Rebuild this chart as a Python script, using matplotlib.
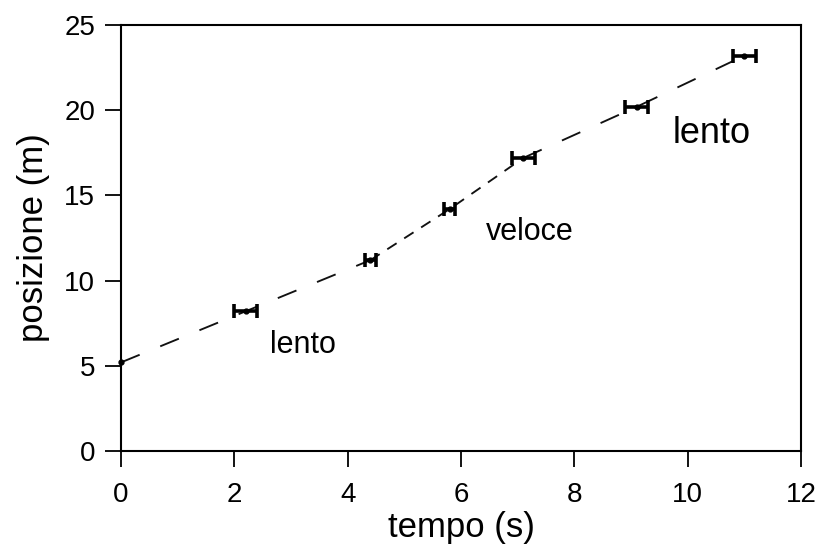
import matplotlib
matplotlib.use("Agg")
import matplotlib.pyplot as plt
import numpy as np

plt.rcParams['font.family'] = ['Liberation Sans', 'DejaVu Sans']
plt.rcParams['lines.scale_dashes'] = False

tempo = [0.0, 2.2, 4.4, 5.8, 7.1, 9.1, 11.0]
posizione = [5.2, 8.2, 11.2, 14.2, 17.2, 20.2, 23.2]
err_tempo = [0.0, 0.2, 0.1, 0.1, 0.2, 0.2, 0.2]

# segments of the fitted path: (start index, end index, style)
segments = [(0, 2, 'lento'), (2, 4, 'veloce'), (4, 6, 'lento')]

xticks = [0, 2, 4, 6, 8, 10, 12]
yticks = [0, 5, 10, 15, 20, 25]

fig = plt.figure(figsize=(8.2, 5.5), dpi=100)
ax = fig.add_axes([0.1476, 0.18, 0.8292, 0.7745])

t = np.array(tempo)
p = np.array(posizione)
for i0, i1, kind in segments:
    dashes = (14.5, 16) if kind == 'lento' else (8, 6.5)
    ax.plot(t[i0:i1 + 1], p[i0:i1 + 1], color='#111111', lw=1.35,
            dashes=dashes, zorder=2)

ax.errorbar(tempo[1:], posizione[1:], xerr=err_tempo[1:], fmt='o', ms=3.5,
            color='black', ecolor='black', elinewidth=2.6, capsize=5,
            capthick=2.6, zorder=3)
ax.plot(tempo[0], posizione[0], 'o', ms=3.5, color='black', zorder=3,
        clip_on=False)

ax.text(2.63, 6.2, 'lento', fontsize=22, va='center', ha='left')
ax.text(6.44, 12.85, 'veloce', fontsize=22, va='center', ha='left')
ax.text(9.74, 18.66, 'lento', fontsize=26, va='center', ha='left')

ax.set_xlim(0, 12)
ax.set_ylim(0, 25)
ax.set_xticks(xticks)
ax.set_yticks(yticks)
ax.tick_params(direction='out', length=11.5, width=1.3, labelsize=20)
ax.tick_params(axis='y', pad=7)
ax.tick_params(axis='x', pad=11)
for s in ax.spines.values():
    s.set_linewidth(1.5)
ax.set_xlabel('tempo (s)', fontsize=25, labelpad=2)
ax.set_ylabel('posizione (m)', fontsize=25, labelpad=10)

fig.savefig('out.png', dpi=100)
